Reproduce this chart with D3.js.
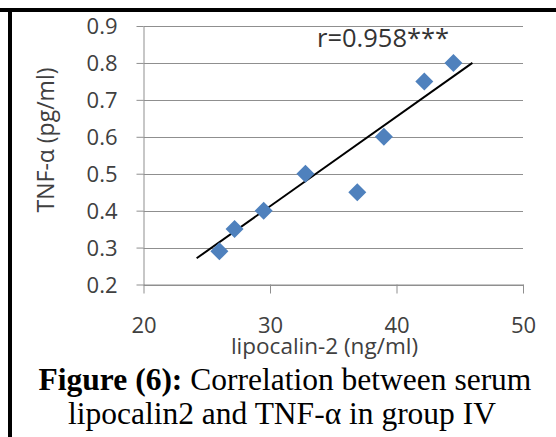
<!DOCTYPE html>
<html>
<head>
<meta charset="utf-8">
<script src="https://cdn.jsdelivr.net/npm/d3@7/dist/d3.min.js"></script>
<style>
  html, body { margin: 0; padding: 0; background: #fff; }
  svg { display: block; }
</style>
</head>
<body>
<svg id="chart" width="556" height="437"></svg>
<script>
// ---- data ----
const lipocalin = [26.0, 27.2, 29.5, 32.8, 36.9, 39.0, 42.2, 44.5];
const tnfAlpha  = [0.29, 0.35, 0.40, 0.50, 0.45, 0.60, 0.75, 0.80];
const trendX = [24.2, 46.0];
const trendY = [0.271, 0.80];
const xTicks = [20, 30, 40, 50];
const yTicks = [0.2, 0.3, 0.4, 0.5, 0.6, 0.7, 0.8, 0.9];
const annotation = "r=0.958***";
const xTitle = "lipocalin-2 (ng/ml)";
const yTitle = "TNF-α (pg/ml)";
const captionBold = "Figure (6):";
const captionRest = " Correlation between serum";
const captionLine2 = "lipocalin2 and TNF-α in group IV";

const svg = d3.select("#chart");
const W = 556, H = 437;
const sans = "'Open Sans', 'DejaVu Sans', sans-serif";
const serif = "'Liberation Serif', 'Times New Roman', serif";
const textCol = "#404040";
const gridCol = "#8f8f8f";

svg.append("rect").attr("width", W).attr("height", H).attr("fill", "#fff");

// frame border (top + left)
svg.append("rect").attr("x", 0).attr("y", 8).attr("width", W).attr("height", 4).attr("fill", "#000");
svg.append("rect").attr("x", 8).attr("y", 8).attr("width", 4).attr("height", H - 8).attr("fill", "#000");

const x = d3.scaleLinear().domain([20, 50]).range([143.5, 523]);
const y = d3.scaleLinear().domain([0.2, 0.9]).range([284.5, 26]);

// gridlines
svg.append("g").selectAll("line").data(yTicks).join("line")
  .attr("x1", x(20)).attr("x2", x(50))
  .attr("y1", d => Math.round(y(d)) + 0.5).attr("y2", d => Math.round(y(d)) + 0.5)
  .attr("stroke", gridCol).attr("stroke-width", 1);

// y axis
const yAxis = svg.append("g").attr("transform", `translate(${x(20)},0)`)
  .call(d3.axisLeft(y).tickValues(yTicks).tickSize(7).tickSizeOuter(0).tickPadding(19)
    .tickFormat(d3.format(".1f")));
yAxis.select(".domain").attr("stroke", gridCol);
yAxis.selectAll(".tick line").attr("stroke", gridCol);
yAxis.selectAll(".tick text").attr("font-family", sans).attr("font-size", 22)
  .attr("fill", textCol).attr("dy", "0.36em");

// x axis
const xAxis = svg.append("g").attr("transform", `translate(0,${y(0.2)})`)
  .call(d3.axisBottom(x).tickValues(xTicks).tickSize(9).tickSizeOuter(0).tickFormat(d3.format("d")));
xAxis.select(".domain").attr("stroke", gridCol);
xAxis.selectAll(".tick line").attr("stroke", gridCol);
xAxis.selectAll(".tick text").attr("font-family", sans).attr("font-size", 22)
  .attr("fill", textCol).attr("y", 48.5).attr("dy", 0);

// trend line
svg.append("line")
  .attr("x1", x(trendX[0])).attr("y1", y(trendY[0]))
  .attr("x2", x(trendX[1])).attr("y2", y(trendY[1]))
  .attr("stroke", "#000").attr("stroke-width", 2);

// points (diamonds)
const pts = lipocalin.map((v, i) => ({ x: v, y: tnfAlpha[i] }));
const dsz = 9;
svg.append("g").selectAll("path").data(pts).join("path")
  .attr("d", d => {
    const cx = x(d.x), cy = y(d.y);
    return `M${cx},${cy - dsz}L${cx + dsz},${cy}L${cx},${cy + dsz}L${cx - dsz},${cy}Z`;
  })
  .attr("fill", "#4f81bd");

// annotation
svg.append("text").attr("x", 317).attr("y", 46.5)
  .attr("font-family", sans).attr("font-size", 25.5).attr("fill", "#333")
  .text(annotation);

// axis titles
svg.append("text").attr("x", 324.5).attr("y", 354).attr("text-anchor", "middle")
  .attr("font-family", sans).attr("font-size", 22.5).attr("fill", textCol)
  .text(xTitle);
svg.append("text").attr("transform", "translate(54,140) rotate(-90)").attr("text-anchor", "middle")
  .attr("font-family", sans).attr("font-size", 23).attr("fill", textCol)
  .text(yTitle);

// caption
const cap1 = svg.append("text").attr("x", 285).attr("y", 390).attr("text-anchor", "middle")
  .attr("font-family", serif).attr("font-size", 31.5).attr("fill", "#000");
cap1.append("tspan").attr("font-weight", "bold").text(captionBold);
cap1.append("tspan").text(captionRest);
svg.append("text").attr("x", 282).attr("y", 424).attr("text-anchor", "middle")
  .attr("font-family", serif).attr("font-size", 31.5).attr("fill", "#000")
  .text(captionLine2);
</script>
</body>
</html>
